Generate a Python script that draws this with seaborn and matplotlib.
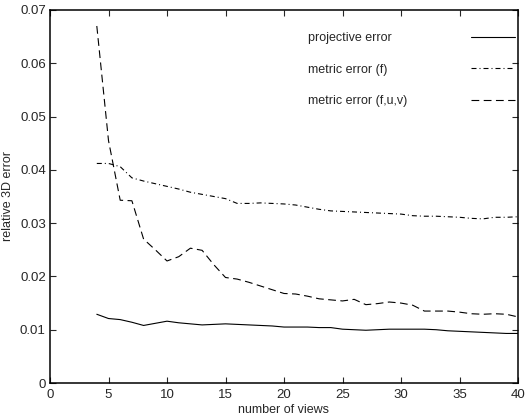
import numpy as np
import pandas as pd
import matplotlib
matplotlib.use("Agg")
import matplotlib.pyplot as plt
import seaborn as sns

# number of views (x axis)
views = list(range(4, 41))

projective_error = [0.0129, 0.0121, 0.0119, 0.0114, 0.0108, 0.0112, 0.0116, 0.0113,
                    0.0111, 0.0109, 0.0110, 0.0111, 0.0110, 0.0109, 0.0108, 0.0107,
                    0.0105, 0.0105, 0.0105, 0.0104, 0.0104, 0.0101, 0.0100, 0.0099,
                    0.0100, 0.0101, 0.0101, 0.0101, 0.0101, 0.0100, 0.0098, 0.0097,
                    0.0096, 0.0095, 0.0094, 0.0093, 0.0093]

metric_error_f = [0.0412, 0.0412, 0.0406, 0.0385, 0.0379, 0.0374, 0.0369, 0.0364,
                  0.0358, 0.0354, 0.0350, 0.0346, 0.0337, 0.0337, 0.0338, 0.0337,
                  0.0336, 0.0334, 0.0330, 0.0326, 0.0323, 0.0322, 0.0321, 0.0320,
                  0.0319, 0.0318, 0.0317, 0.0314, 0.0313, 0.0313, 0.0312, 0.0311,
                  0.0309, 0.0308, 0.0311, 0.0311, 0.0312]

metric_error_fuv = [0.0670, 0.0455, 0.0343, 0.0342, 0.0270, 0.0250, 0.0229, 0.0237,
                    0.0253, 0.0249, 0.0222, 0.0198, 0.0195, 0.0189, 0.0182, 0.0175,
                    0.0168, 0.0167, 0.0163, 0.0158, 0.0156, 0.0154, 0.0157, 0.0147,
                    0.0149, 0.0152, 0.0150, 0.0146, 0.0135, 0.0135, 0.0135, 0.0133,
                    0.0130, 0.0129, 0.0130, 0.0129, 0.0124]

series = [
    ("projective error", projective_error, "-"),
    ("metric error (f)", metric_error_f, (0, (4.5, 2.7, 0.9, 2.7))),
    ("metric error (f,u,v)", metric_error_fuv, (0, (7.0, 4.0))),
]

sns.set_style("ticks")
plt.rcParams['font.family'] = ['Liberation Sans', 'DejaVu Sans']
plt.rcParams['font.size'] = 9

fig = plt.figure(figsize=(5.29, 4.16), dpi=100)
ax = fig.add_axes([50 / 529, 1 - 383 / 416, (518 - 50) / 529, (383 - 10) / 416])

for label, values, ls in series:
    df = pd.DataFrame({"views": views, "error": values})
    sns.lineplot(data=df, x="views", y="error", ax=ax, color="black",
                 linewidth=0.8, linestyle=ls, label=label)

ax.set_xlim(0, 40)
ax.set_ylim(0, 0.07)
ax.set_xticks(range(0, 41, 5))
ax.set_yticks(np.arange(0, 0.071, 0.01))
ax.set_yticklabels(["0"] + [f"{v:.2f}" for v in np.arange(0.01, 0.071, 0.01)])
ax.set_xlabel("number of views", fontsize=9, labelpad=2)
ax.set_ylabel("relative 3D error", fontsize=9, labelpad=4)
ax.tick_params(direction="in", length=4, width=0.8, top=True, right=True,
               labelsize=9.5, pad=3)
ax.tick_params(axis="x", pad=4.5)
for s in ax.spines.values():
    s.set_linewidth(1.1)
    s.set_color("black")

leg = ax.legend(loc="upper right", bbox_to_anchor=(0.994, 0.94), frameon=False,
                markerfirst=False, handlelength=3.5, handletextpad=5.2,
                labelspacing=1.55, borderpad=0.0, borderaxespad=0.0, fontsize=9)
# text left, line sample at the right edge: stretch every legend row
for col in leg._legend_handle_box.get_children():
    for row in col.get_children():
        row.mode = "expand"
        row.width = 207

fig.savefig("out.png", dpi=100)
